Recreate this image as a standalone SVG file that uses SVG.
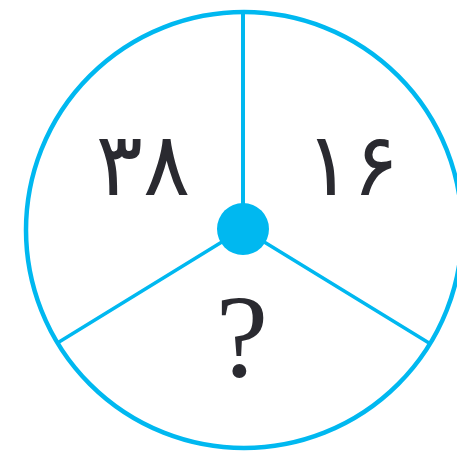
<svg xmlns="http://www.w3.org/2000/svg" width="457" height="456" viewBox="0 0 457 456">
<style>
.ln{stroke:#00b8f0;fill:none;stroke-linecap:round}
.t{fill:#2a2a30;font-family:"DejaVu Sans","Noto Sans",sans-serif;text-anchor:middle}
</style>
<rect width="457" height="456" fill="#fff"/>
<g id="connectors">
<line class="ln" x1="243" y1="229" x2="243" y2="12" stroke-width="4"/>
<line class="ln" x1="243" y1="229" x2="59" y2="342" stroke-width="3.5"/>
<line class="ln" x1="243" y1="229" x2="429" y2="343" stroke-width="3.5"/>
</g>
<g id="circle"><circle class="ln" cx="244" cy="230" r="218" stroke-width="4.5"/></g>
<g id="center"><circle cx="243" cy="229" r="26" fill="#00b8f0"/></g>
<g id="n38"><text class="t" x="143" y="195" font-size="88">۳۸</text></g>
<g id="n16"><text class="t" x="352" y="195" font-size="88">۱۶</text></g>
<g id="q"><text x="242" y="376" font-size="118" fill="#2a2a30" font-family="Liberation Serif,serif" text-anchor="middle">?</text></g>
</svg>
